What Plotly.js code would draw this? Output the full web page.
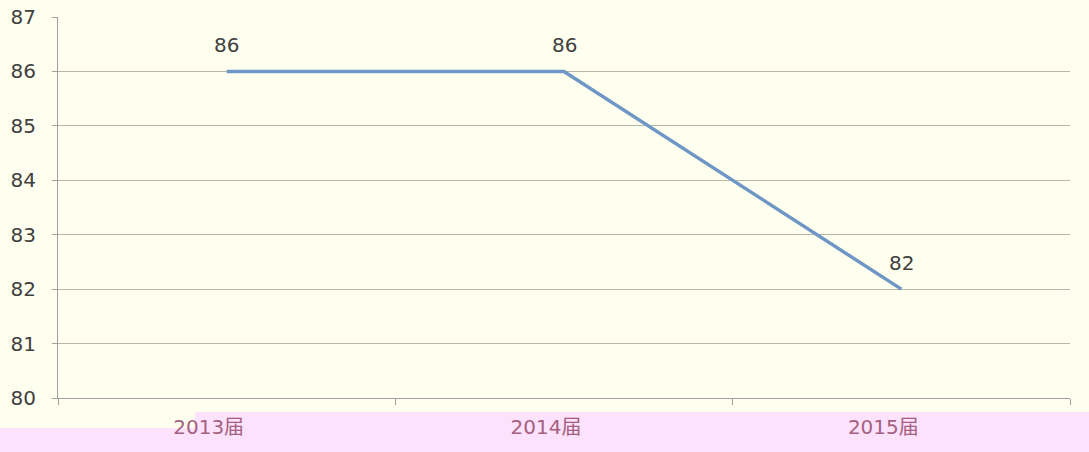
<!DOCTYPE html>
<html>
<head>
<meta charset="utf-8">
<script src="https://cdn.plot.ly/plotly-3.0.1.min.js"></script>
<style>html,body{margin:0;padding:0;background:#FFFFF0;}#chart{width:1089px;height:452px;}</style>
</head>
<body>
<div id="chart"></div>
<script>
const categories = ["2013届", "2014届", "2015届"];
const values = [86, 86, 82];
const yTicks = [80, 81, 82, 83, 84, 85, 86, 87];

const trace = {
  x: categories,
  y: values,
  type: "scatter",
  mode: "lines",
  line: {color: "#6F97C6", width: 3.5},
  hoverinfo: "skip"
};

const annotations = categories.map((c, i) => ({
  x: c, y: values[i], xref: "x", yref: "y",
  text: String(values[i]), showarrow: false, yshift: 26,
  font: {family: "DejaVu Sans, Verdana, sans-serif", size: 20, color: "#404040"}
}));

const layout = {
  width: 1089, height: 452,
  margin: {l: 58, r: 19, t: 17, b: 54},
  paper_bgcolor: "#FFFFF0",
  plot_bgcolor: "#FFFFF0",
  showlegend: false,
  xaxis: {
    type: "category",
    range: [-0.5, 2.5],
    tickson: "boundaries",
    ticks: "outside", ticklen: 6, tickcolor: "#A0A0A0",
    showline: true, linecolor: "#A0A0A0", linewidth: 1,
    showgrid: false, zeroline: false,
    ticklabelstandoff: 11,
    ticklabelshift: -18,
    tickfont: {family: "DejaVu Sans, Verdana, 'Noto Sans CJK SC', sans-serif", size: 20, color: "#A5607F"}
  },
  yaxis: {
    range: [80, 87],
    tickvals: yTicks,
    ticktext: yTicks.map(String),
    ticks: "outside", ticklen: 5, tickcolor: "#A0A0A0",
    showline: true, linecolor: "#A0A0A0", linewidth: 1,
    showgrid: true, gridcolor: "#B8B8A8", gridwidth: 1,
    zeroline: false,
    ticklabelstandoff: 12,
    tickfont: {family: "DejaVu Sans, Verdana, sans-serif", size: 20, color: "#404040"}
  },
  annotations: annotations,
  shapes: [
    {type: "rect", xref: "paper", yref: "paper", layer: "below",
     x0: -0.06, x1: 0.1354, y0: -0.145, y1: -0.0787,
     fillcolor: "#FCE2FC", line: {width: 0}},
    {type: "rect", xref: "paper", yref: "paper", layer: "below",
     x0: 0.1354, x1: 1.02, y0: -0.145, y1: -0.0367,
     fillcolor: "#FCE2FC", line: {width: 0}}
  ]
};

Plotly.newPlot("chart", [trace], layout, {displayModeBar: false, staticPlot: true});
</script>
</body>
</html>
